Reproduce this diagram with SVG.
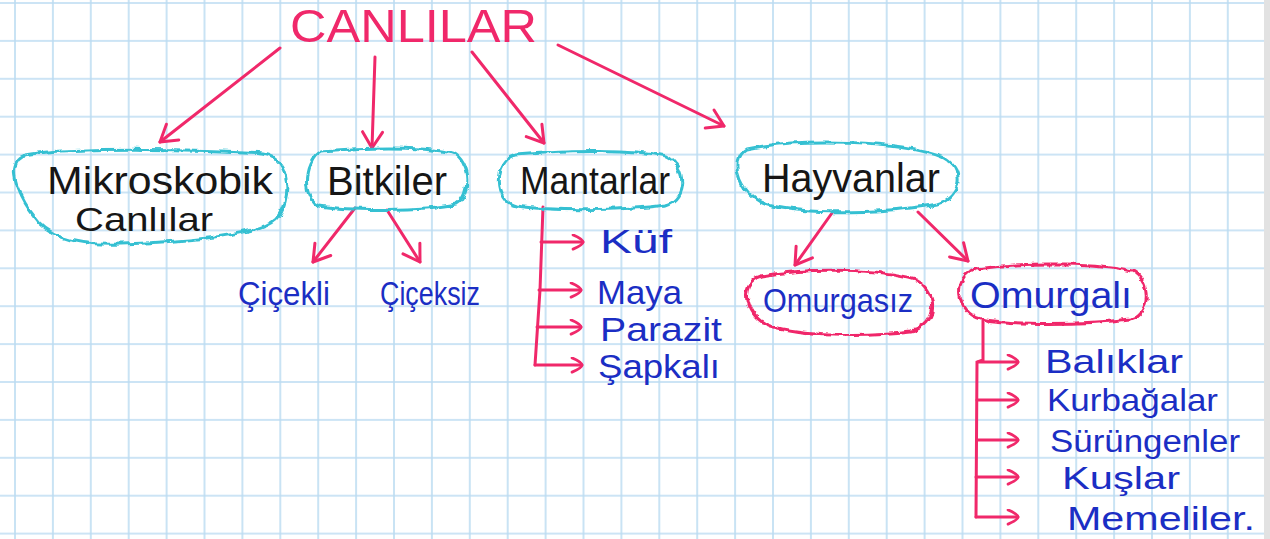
<svg xmlns="http://www.w3.org/2000/svg" width="1270" height="539" viewBox="0 0 1270 539">
<defs>
<pattern id="grid" patternUnits="userSpaceOnUse" x="-3.95" y="-15.95" width="37.9" height="37.9">
<path d="M18.95,0 V37.9 M0,18.95 H37.9" stroke="#bcdcf2" stroke-width="1.6" fill="none"/>
</pattern>
<filter id="wob" x="-10%" y="-20%" width="120%" height="140%">
<feTurbulence type="turbulence" baseFrequency="0.06" numOctaves="2" seed="3" result="n"/>
<feDisplacementMap in="SourceGraphic" in2="n" scale="5" xChannelSelector="R" yChannelSelector="G"/>
</filter>
<marker id="ah" viewBox="0 0 24 24" refX="20" refY="12" markerWidth="24" markerHeight="24" markerUnits="userSpaceOnUse" orient="auto">
<path d="M4,2 L20,12 L4,22" fill="none" stroke="#f0286a" stroke-width="3" stroke-linecap="round" stroke-linejoin="round"/>
</marker>
<marker id="ahs" viewBox="0 0 24 24" refX="20" refY="12" markerWidth="17" markerHeight="17" markerUnits="userSpaceOnUse" orient="auto">
<path d="M6,2 Q20,8 20,12 Q20,16 6,22" fill="none" stroke="#f0286a" stroke-width="4" stroke-linecap="round" stroke-linejoin="round"/>
</marker>
<style>
.cl{fill:none;stroke:#36c0d2;stroke-width:3;filter:url(#wob)}
.cr{fill:none;stroke:#f0286a;stroke-width:3;filter:url(#wob)}
.bk{font-family:"Liberation Sans","DejaVu Sans",sans-serif;fill:#161616}
.bl{font-family:"Liberation Sans","DejaVu Sans",sans-serif;fill:#1b2ec4}
.ti{font-family:"Liberation Sans","DejaVu Sans",sans-serif;fill:#f0286a}
.ar{fill:none;stroke:#f0286a;stroke-width:3;stroke-linecap:round}
</style>
</defs>
<rect width="1270" height="539" fill="#ffffff"/>
<rect width="1270" height="539" fill="url(#grid)"/>
<rect x="1264" y="0" width="6" height="539" fill="#e2e2e2"/>

<g id="title"><text class="ti" x="290" y="42" font-size="46" textLength="247" lengthAdjust="spacingAndGlyphs">CANLILAR</text></g>

<g id="connectors">
<path class="ar" d="M280,48 L160,142" marker-end="url(#ah)"/>
<path class="ar" d="M375,57 L372,148" marker-end="url(#ah)"/>
<path class="ar" d="M472,52 L544,143" marker-end="url(#ah)"/>
<path class="ar" d="M558,45 L724,126" marker-end="url(#ah)"/>
<path class="ar" d="M355,208 L313,262" marker-end="url(#ah)"/>
<path class="ar" d="M387,210 L420,262" marker-end="url(#ah)"/>
<path class="ar" d="M832,213 L795,265" marker-end="url(#ah)"/>
<path class="ar" d="M918,212 L968,261" marker-end="url(#ah)"/>
<path class="ar" d="M543,207 L540,290 L535,365"/>
<path class="ar" d="M541,242 H583" marker-end="url(#ahs)"/>
<path class="ar" d="M539,290 H581" marker-end="url(#ahs)"/>
<path class="ar" d="M537,327 H581" marker-end="url(#ahs)"/>
<path class="ar" d="M535,365 H582" marker-end="url(#ahs)"/>
<path class="ar" d="M983,320 L983,360 L977,362 L976,517"/>
<path class="ar" d="M978,362 H1018" marker-end="url(#ahs)"/>
<path class="ar" d="M977,400 H1018" marker-end="url(#ahs)"/>
<path class="ar" d="M977,440 H1018" marker-end="url(#ahs)"/>
<path class="ar" d="M976,477 H1018" marker-end="url(#ahs)"/>
<path class="ar" d="M976,517 H1018" marker-end="url(#ahs)"/>
</g>

<g id="mikroskobik">
<path class="cl" d="M30,153 C80,146 200,148 262,152 C290,156 292,200 275,218 C260,232 200,240 120,243 C75,245 45,235 32,215 C20,200 8,175 14,162 C17,155 22,154 30,153 Z"/>
<text class="bk" x="47" y="194" font-size="38" textLength="226" lengthAdjust="spacingAndGlyphs">Mikroskobik</text>
<text class="bk" x="75" y="231" font-size="33" textLength="138" lengthAdjust="spacingAndGlyphs">Canlılar</text>
</g>
<g id="bitkiler">
<path class="cl" d="M320,150 C370,146 420,146 452,152 C470,160 470,195 455,203 C420,210 350,210 318,205 C302,200 300,160 320,150 Z"/>
<text class="bk" x="327" y="195" font-size="40" textLength="120" lengthAdjust="spacingAndGlyphs">Bitkiler</text>
</g>
<g id="mantarlar">
<path class="cl" d="M515,153 C570,148 630,148 665,155 C686,165 686,198 665,204 C620,210 550,210 515,205 C493,200 490,160 515,153 Z"/>
<text class="bk" x="520" y="194" font-size="38" textLength="150" lengthAdjust="spacingAndGlyphs">Mantarlar</text>
</g>
<g id="hayvanlar">
<path class="cl" d="M745,148 C800,136 900,140 940,155 C965,165 962,195 935,203 C890,212 810,214 770,205 C740,198 725,160 745,148 Z"/>
<text class="bk" x="762" y="192" font-size="40" textLength="178" lengthAdjust="spacingAndGlyphs">Hayvanlar</text>
</g>
<g id="cicekli"><text class="bl" x="238" y="305" font-size="34" textLength="92" lengthAdjust="spacingAndGlyphs">Çiçekli</text></g>
<g id="ciceksiz"><text class="bl" x="380" y="305" font-size="34" textLength="100" lengthAdjust="spacingAndGlyphs">Çiçeksiz</text></g>
<g id="kuf"><text class="bl" x="600" y="253" font-size="34" textLength="72" lengthAdjust="spacingAndGlyphs">Küf</text></g>
<g id="maya"><text class="bl" x="597" y="304" font-size="34" textLength="85" lengthAdjust="spacingAndGlyphs">Maya</text></g>
<g id="parazit"><text class="bl" x="600" y="341" font-size="34" textLength="122" lengthAdjust="spacingAndGlyphs">Parazit</text></g>
<g id="sapkali"><text class="bl" x="598" y="378" font-size="34" textLength="122" lengthAdjust="spacingAndGlyphs">Şapkalı</text></g>
<g id="omurgasiz">
<path class="cr" d="M760,275 C810,266 880,268 915,278 C938,290 938,325 910,330 C860,336 800,334 770,325 C745,318 735,282 760,275 Z"/>
<text class="bl" x="763" y="312" font-size="34" textLength="150" lengthAdjust="spacingAndGlyphs">Omurgasız</text>
</g>
<g id="omurgali">
<path class="cr" d="M975,268 C1030,260 1100,262 1132,270 C1150,280 1150,312 1130,318 C1080,324 1010,324 980,318 C955,312 950,275 975,268 Z"/>
<text class="bl" x="970" y="308" font-size="36" textLength="162" lengthAdjust="spacingAndGlyphs">Omurgalı</text>
</g>
<g id="baliklar"><text class="bl" x="1045" y="373" font-size="33" textLength="138" lengthAdjust="spacingAndGlyphs">Balıklar</text></g>
<g id="kurbagalar"><text class="bl" x="1047" y="411" font-size="32" textLength="171" lengthAdjust="spacingAndGlyphs">Kurbağalar</text></g>
<g id="surungenler"><text class="bl" x="1050" y="452" font-size="31" textLength="190" lengthAdjust="spacingAndGlyphs">Sürüngenler</text></g>
<g id="kuslar"><text class="bl" x="1062" y="489" font-size="32" textLength="118" lengthAdjust="spacingAndGlyphs">Kuşlar</text></g>
<g id="memeliler"><text class="bl" x="1067" y="530" font-size="34" textLength="188" lengthAdjust="spacingAndGlyphs">Memeliler.</text></g>
</svg>
